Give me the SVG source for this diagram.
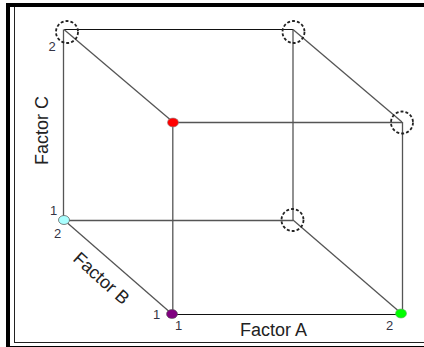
<svg xmlns="http://www.w3.org/2000/svg" width="424" height="347" viewBox="0 0 424 347">
<style>
text{font-family:"Liberation Sans",Arial,sans-serif;fill:#222}
.lab{font-size:18px}
.num{font-size:13px;fill:#334}
.e{stroke:#555;stroke-width:1.3;fill:none}
.k{stroke:#111;stroke-width:1.2;fill:none}
.open{fill:none;stroke:#222;stroke-width:1.8;stroke-dasharray:3 2}
</style>
<rect width="424" height="347" fill="#fff"/>
<g id="frame">
<rect x="6" y="3" width="418" height="4" fill="#000"/>
<rect x="6" y="3" width="4" height="344" fill="#000"/>
<rect x="6" y="346" width="418" height="1" fill="#000"/>
<rect x="14" y="7" width="1" height="335" fill="#222"/>
<rect x="14" y="342" width="410" height="1" fill="#222"/>
</g>
<g id="connectors">
<line class="k" x1="64" y1="29.500" x2="293" y2="29.500"/>
<line class="e" x1="63.500" y1="29.500" x2="63.500" y2="220"/>
<line class="e" x1="64" y1="29.500" x2="173" y2="122"/>
<line class="e" x1="293" y1="29.500" x2="293" y2="220"/>
<line class="e" x1="293" y1="29.500" x2="402" y2="122"/>
<line class="e" x1="173" y1="122.500" x2="402" y2="122.500"/>
<line class="e" x1="172.800" y1="122" x2="172.800" y2="314"/>
<line class="e" x1="402.500" y1="122" x2="402.500" y2="314"/>
<line class="e" x1="64" y1="220.500" x2="293" y2="220.500"/>
<line class="e" x1="64" y1="220" x2="172" y2="314"/>
<line class="e" x1="293" y1="220" x2="402" y2="314"/>
<line class="k" x1="172" y1="314.500" x2="402" y2="314.500"/>
</g>
<g id="node-c2"><circle class="open" cx="67" cy="32" r="11"/></g>
<g id="node-ac2"><circle class="open" cx="293.500" cy="32" r="11"/></g>
<g id="node-bc2"><circle class="open" cx="402" cy="122.500" r="11"/></g>
<g id="node-ab2"><circle class="open" cx="292.500" cy="220" r="11"/></g>
<g id="node-red"><ellipse cx="173" cy="122.500" rx="5.500" ry="4.500" fill="#f00" stroke="#888" stroke-width=".6"/></g>
<g id="node-cyan"><ellipse cx="64" cy="220" rx="5.500" ry="4.500" fill="#aff" stroke="#666" stroke-width=".8"/></g>
<g id="node-purple"><ellipse cx="172" cy="314" rx="5.500" ry="4.500" fill="#800080" stroke="#555" stroke-width=".6"/></g>
<g id="node-green"><ellipse cx="401" cy="313.500" rx="5.500" ry="4.500" fill="#0f0" stroke="#6a6" stroke-width=".6"/></g>
<g id="labels">
<text class="lab" transform="translate(47.500,165) rotate(-90)">Factor C</text>
<text class="lab" transform="translate(72,260) rotate(42)">Factor B</text>
<text class="lab" x="240" y="336">Factor A</text>
<text class="num" x="48.500" y="51">2</text>
<text class="num" x="50" y="215">1</text>
<text class="num" x="54" y="238">2</text>
<text class="num" x="153" y="319">1</text>
<text class="num" x="175" y="330">1</text>
<text class="num" x="386" y="330">2</text>
</g>
</svg>
